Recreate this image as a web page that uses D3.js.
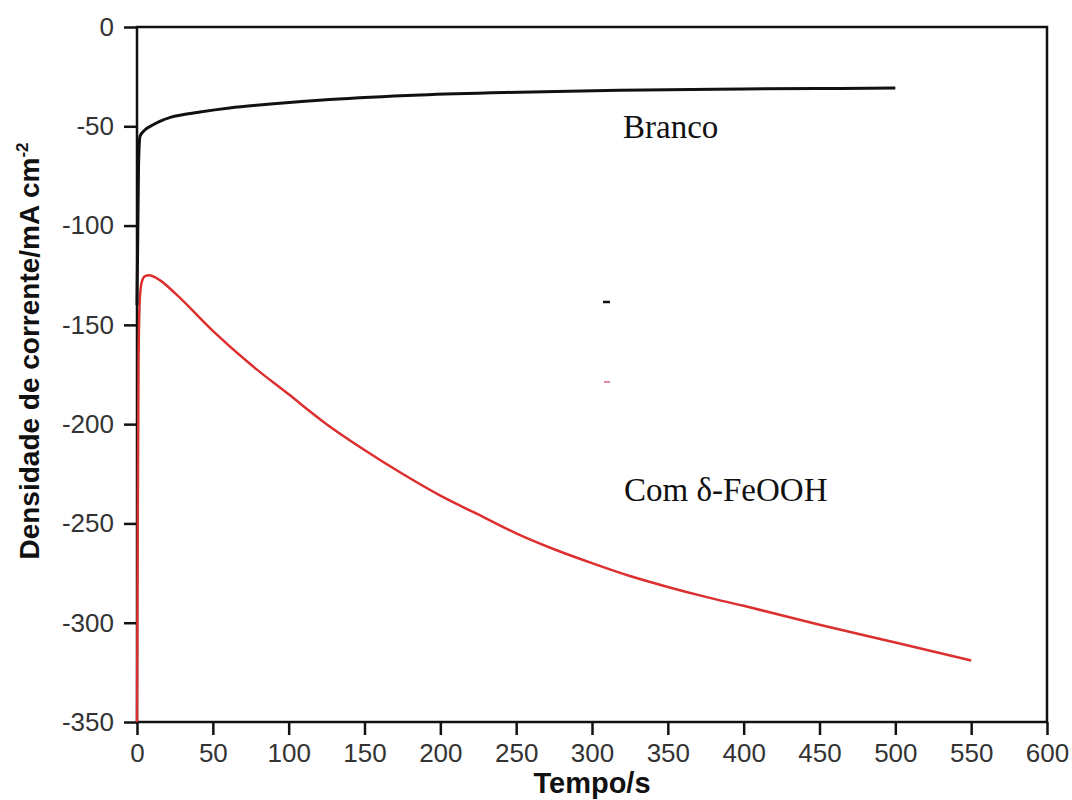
<!DOCTYPE html>
<html>
<head>
<meta charset="utf-8">
<script src="https://cdn.jsdelivr.net/npm/d3@7"></script>
<style>
  body { margin: 0; background: #fff; }
  .tick text { font-family: "Liberation Sans", Arial, sans-serif; fill: #333; }
  .axis-title { font-family: "Liberation Sans", Arial, sans-serif; font-weight: bold; fill: #111; }
  .label { font-family: "Liberation Serif", "Times New Roman", serif; fill: #111; }
</style>
</head>
<body>
<div class="chart"></div>
<script>
// Branco (black curve)
let brancoTime = [0, 1, 2, 5, 10, 15, 22, 30, 41.5, 61, 88, 127, 187, 252, 318, 400, 450, 500];
let brancoValue = [-140, -70, -55, -52, -49.5, -47.5, -45.5, -44.2, -42.8, -40.8, -38.8, -36.5, -34.2, -32.8, -31.8, -31.2, -31, -30.7];

// Com d-FeOOH (red curve)
let feoohTime = [0, 0.5, 1, 1.5, 2, 3.3, 5.3, 8, 15, 25, 50, 75, 100, 125, 150, 175, 200, 225, 250, 275, 300, 325, 350, 375, 400, 450, 500, 550];
let feoohValue = [-350, -250, -170, -145, -135, -128, -125.5, -125, -127.5, -134, -153, -170, -185, -200, -213, -225, -236, -245.5, -255, -263, -270, -276.5, -282, -287, -291.5, -301, -310, -319];

let xTicks = [0, 50, 100, 150, 200, 250, 300, 350, 400, 450, 500, 550, 600];
let yTicks = [0, -50, -100, -150, -200, -250, -300, -350];

function drawChart() {
    const width = 1072;
    const height = 800;
    const left = 137, right = 1047, top = 27, bottom = 722;

    const svg = d3.select('.chart')
        .append('svg')
        .attr('width', width)
        .attr('height', height)

    const x = d3.scaleLinear().domain([0, 600]).range([left, right]);
    const y = d3.scaleLinear().domain([-350, 0]).range([bottom, top]);

    // frame
    svg.append("rect")
        .attr("x", left)
        .attr("y", top)
        .attr("width", right - left)
        .attr("height", bottom - top)
        .attr("fill", "none")
        .attr("stroke", "#111")
        .attr("stroke-width", 2.5)

    let xAxis = svg.append("g")
        .attr("transform", "translate(0," + bottom + ")")
        .call(d3.axisBottom(x).tickValues(xTicks).tickSize(13).tickPadding(9).tickFormat(d3.format("d")));

    let yAxis = svg.append("g")
        .attr("transform", "translate(" + left + ",0)")
        .call(d3.axisLeft(y).tickValues(yTicks).tickSize(13).tickPadding(10).tickFormat(d => d == 0 ? "0" : "-" + Math.abs(d)));

    [xAxis, yAxis].forEach(function (ax) {
        ax.select(".domain").remove();
        ax.selectAll(".tick line").attr("stroke", "#111").attr("stroke-width", 2.5);
        ax.selectAll(".tick text").attr("font-size", "26px");
    });

    const line = d3.line()
        .x(d => x(d[0]))
        .y(d => y(d[1]))
        .curve(d3.curveMonotoneX);

    svg.append("path")
        .datum(feoohTime.map((t, i) => [t, feoohValue[i]]))
        .attr("d", line)
        .attr("fill", "none")
        .attr("stroke", "#dc2f2f")
        .attr("stroke-width", 2.5)

    svg.append("path")
        .datum(brancoTime.map((t, i) => [t, brancoValue[i]]))
        .attr("d", line)
        .attr("fill", "none")
        .attr("stroke", "#111")
        .attr("stroke-width", 3)

    // leftover legend marks
    svg.append("line")
        .attr("x1", 603).attr("x2", 610)
        .attr("y1", 302).attr("y2", 302)
        .attr("stroke", "#111").attr("stroke-width", 2.5)
    svg.append("line")
        .attr("x1", 604).attr("x2", 610)
        .attr("y1", 382).attr("y2", 382)
        .attr("stroke", "#e58a9a").attr("stroke-width", 2)

    svg.append("text")
        .attr("class", "label")
        .attr("x", 623)
        .attr("y", 138)
        .attr("font-size", "33px")
        .text("Branco")

    svg.append("text")
        .attr("class", "label")
        .attr("x", 624)
        .attr("y", 501)
        .attr("font-size", "33px")
        .text("Com δ-FeOOH")

    svg.append("text")
        .attr("class", "axis-title")
        .attr("x", (left + right) / 2)
        .attr("y", 793)
        .attr("text-anchor", "middle")
        .attr("font-size", "29px")
        .text("Tempo/s")

    let yTitle = svg.append("text")
        .attr("class", "axis-title")
        .attr("text-anchor", "middle")
        .attr("font-size", "28px")
        .attr("transform", "translate(39,351) rotate(-90)")
    yTitle.append("tspan").text("Densidade de corrente/mA cm");
    yTitle.append("tspan").attr("dy", -11).attr("font-size", "17px").text("-2");
}

drawChart();
</script>
</body>
</html>
